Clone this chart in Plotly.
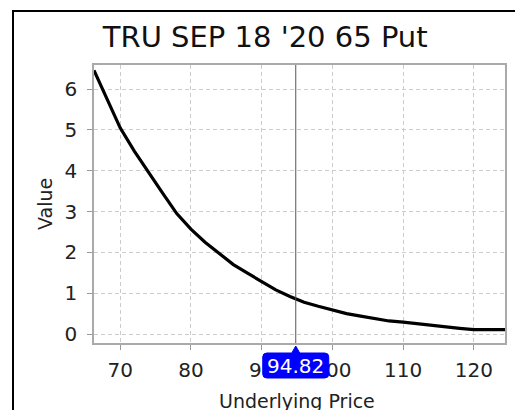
import plotly.graph_objects as go

title = "TRU SEP 18 '20 65 Put"
price = [66.3, 67.5, 68, 70, 72, 74, 76, 78, 80, 82, 84, 85.3, 86, 88, 90, 92, 94, 94.82,
         96, 98, 100, 102, 104, 106, 108, 110, 112, 114, 116, 118, 120, 122, 124.4]
value = [6.46, 6.0, 5.82, 5.05, 4.48, 3.95, 3.45, 2.95, 2.57, 2.25, 1.97, 1.78, 1.70, 1.49,
         1.29, 1.08, 0.92, 0.86, 0.78, 0.68, 0.59, 0.5, 0.44, 0.38, 0.32, 0.29, 0.25,
         0.21, 0.17, 0.14, 0.11, 0.11, 0.11]
current = 94.82
x_ticks = [70, 80, 90, 100, 110, 120]
y_ticks = [0, 1, 2, 3, 4, 5, 6]

W, H = 515, 410
L, R, T, B = 94, 10, 65, 67
pw, ph = W - L - R, H - T - B
FONT = "DejaVu Sans"

fig = go.Figure()
fig.add_trace(go.Scatter(x=price, y=value, mode="lines",
                         line=dict(color="black", width=3.2), hoverinfo="skip"))

fig.add_shape(type="line", xref="x", yref="paper", x0=current, x1=current, y0=0, y1=1,
              line=dict(color="#555555", width=1))
# outer frame
fig.add_shape(type="rect", xref="paper", yref="paper",
              x0=(13 - L) / pw, x1=1.2, y0=-0.5, y1=1 + (T - 11) / ph,
              line=dict(color="black", width=2), layer="below")

# value marker box (rounded) with pointer
r = 4
bx0, bx1, by0, by1 = -33, 33, -35, -10
path = (f"M {bx0 + r},{by1} L -4,{by1} L 0,-3 L 4,{by1} L {bx1 - r},{by1} "
        f"Q {bx1},{by1} {bx1},{by1 - r} L {bx1},{by0 + r} Q {bx1},{by0} {bx1 - r},{by0} "
        f"L {bx0 + r},{by0} Q {bx0},{by0} {bx0},{by0 + r} L {bx0},{by1 - r} "
        f"Q {bx0},{by1} {bx0 + r},{by1} Z")
fig.add_shape(type="path", xref="x", yref="paper", xsizemode="pixel", ysizemode="pixel",
              xanchor=current, yanchor=0, path=path, fillcolor="#0000ff",
              line=dict(color="#0000ff", width=1), layer="above")
fig.add_annotation(x=current, xref="x", y=0, yref="paper", yshift=-23,
                   text=f"{current:.2f}", showarrow=False, xanchor="center", yanchor="middle",
                   font=dict(family=FONT, size=20, color="white"))

# axis titles
fig.add_annotation(x=(45 - L) / pw, xref="paper", y=(H - B - 204) / ph, yref="paper",
                   text="Value", textangle=-90, showarrow=False,
                   xanchor="center", yanchor="middle",
                   font=dict(family=FONT, size=19, color="#222222"))
fig.add_annotation(x=(297 - L) / pw, xref="paper", y=-(401 - (H - B)) / ph, yref="paper",
                   text="Underlying Price", showarrow=False, xanchor="center", yanchor="middle",
                   font=dict(family=FONT, size=19, color="#222222"))

fig.update_layout(
    width=W, height=H,
    margin=dict(l=L, r=R, t=T, b=B, autoexpand=False),
    paper_bgcolor="white", plot_bgcolor="white",
    showlegend=False,
    title=dict(text=title, x=0.515, xanchor="center", y=1 - 37 / H, yanchor="middle",
               font=dict(family=FONT, size=29, color="#111111"), automargin=False),
    font=dict(family=FONT, size=20, color="#222222"),
)
fig.update_xaxes(range=[66.3, 124.4], tickvals=x_ticks, ticks="outside", ticklen=5,
                 tickcolor="#999999", showline=True, linecolor="#aaaaaa", linewidth=1.5,
                 mirror=True, showgrid=True, gridcolor="#cccccc", griddash="4px,3px",
                 gridwidth=1, zeroline=False, automargin=False, ticklabelstandoff=3)
fig.update_yaxes(range=[-0.22, 6.59], tickvals=y_ticks, ticks="outside", ticklen=5,
                 tickcolor="#999999", showline=True, linecolor="#aaaaaa", linewidth=1.5,
                 mirror=True, showgrid=True, gridcolor="#cccccc", griddash="4px,3px",
                 gridwidth=1, zeroline=False, automargin=False, ticklabelstandoff=6)

fig.write_html("out.html", config={"displayModeBar": False},
               post_script="document.body.style.margin='0';document.body.style.overflow='hidden';")
